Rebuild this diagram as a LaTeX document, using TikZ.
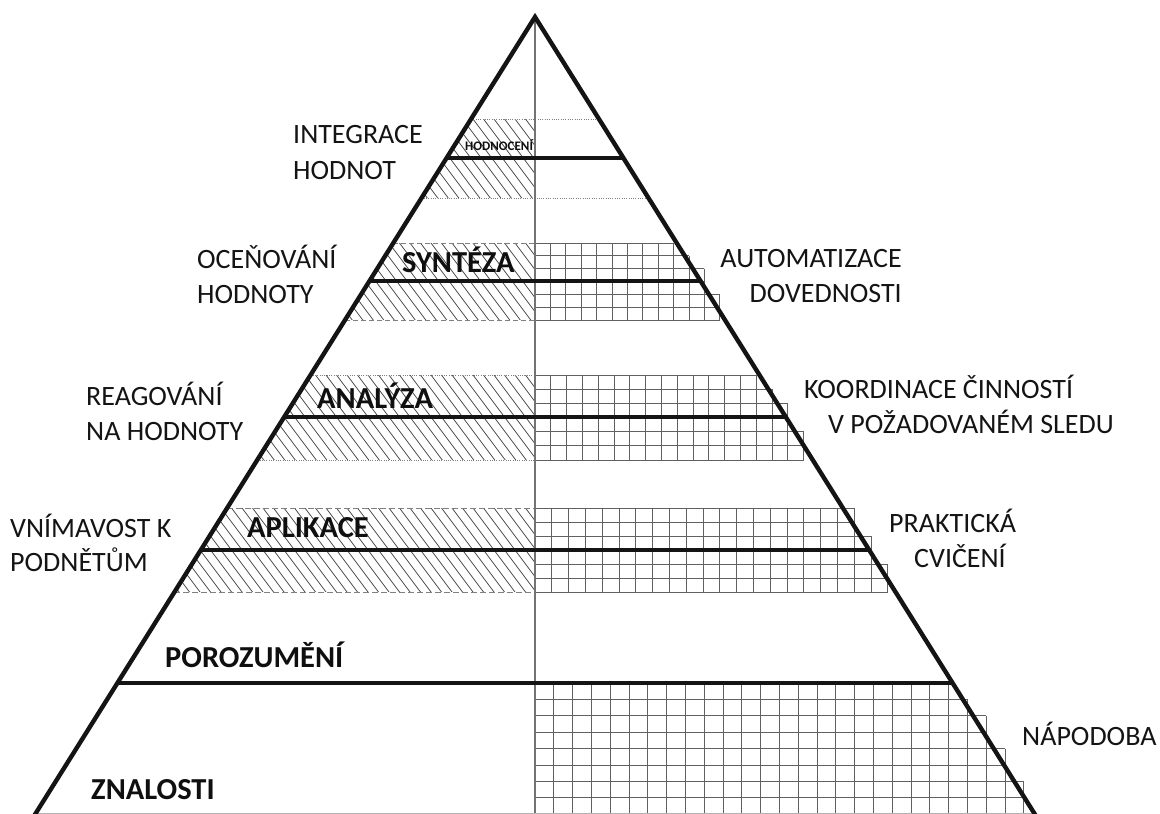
\documentclass[tikz,border=0pt]{standalone}
\usepackage{fontspec}
\setmainfont{Carlito}
\begin{document}
\begin{tikzpicture}[x=1bp, y=-1bp,
  declare function={hw(\t)=0.627*(\t-17);},
  edge/.style={line width=4.4bp, black!92, line join=miter, miter limit=20},
  level/.style={line width=4.3bp, black!92},
  axisline/.style={line width=1.1bp, black!55},
  hatchline/.style={line width=0.75bp, black!72},
  gridline/.style={line width=0.9bp, black!62},
  dotline/.style={line width=0.8bp, black!50, dash pattern=on 1bp off 1.3bp},
  dashline/.style={line width=0.8bp, black!50, dash pattern=on 5bp off 3bp},
  lbl/.style={inner sep=0pt, anchor=base west, text=black!92,
    font=\fontsize{28bp}{34bp}\selectfont},
  lvl/.style={inner sep=0pt, anchor=base west, text=black!94,
    font=\fontsize{30.5bp}{36bp}\selectfont\bfseries},
  small/.style={inner sep=0pt, anchor=base west, text=black!94,
    font=\fontsize{13bp}{15bp}\selectfont\bfseries}]

\useasboundingbox (0,0) rectangle (1160,814);
\fill[white] (0,0) rectangle (1160,814);
\clip (0,0) rectangle (1160,814);

\coordinate (apex) at (535,17);
\coordinate (bl) at ({535-hw(830)},830);
\coordinate (br) at ({535+hw(830)},830);
\coordinate (foot) at (535,830);

% diagonal hatching of the cognitive bands (left half)
\foreach \ya/\yb in {119/198, 243/320, 375/460, 508/592}{
  \begin{scope}
    \clip (apex) -- (bl) -- (br) -- cycle;
    \clip (0,\ya) rectangle (535,\yb);
    \foreach \k in {0,...,72}{
      \draw[hatchline] ({-220+10.5*\k},\ya) -- ++({0.75*(\yb-\ya)},{\yb-\ya});
    }
  \end{scope}
}

% square grids of the psychomotor bands (right half), stepped at the edge
\foreach \gtop/\grows/\gh/\gw in {243/6/12.83/15.4, 375/6/14.17/15.8, 508/6/14/16.8, 683/8/16.4/18.8}{
  \foreach \gr in {1,...,\grows}{
    \pgfmathsetmacro\gya{\gtop+(\gr-1)*\gh}
    \pgfmathsetmacro\gyb{\gya+\gh}
    \pgfmathtruncatemacro\gcols{round(hw((\gya+\gyb)/2)/\gw)}
    \pgfmathsetmacro\gxe{535+\gcols*\gw}
    \draw[gridline] (535,\gya) -- (\gxe,\gya);
    \draw[gridline] (535,\gyb) -- (\gxe,\gyb);
    \foreach \gk in {1,...,\gcols}{
      \pgfmathsetmacro\gx{535+\gk*\gw}
      \draw[gridline] (\gx,\gya) -- (\gx,\gyb);
    }
  }
}

% band borders
\draw[dotline] ({535-hw(119)},119) -- ({535+hw(119)},119);
\draw[dotline] ({535-hw(198)},198) -- ({535+hw(198)},198);
\draw[dashline] ({535-hw(243)},243) -- (535,243);
\draw[dashline] ({535-hw(320)},320) -- (535,320);
\draw[dotline] ({535-hw(375)},375) -- (535,375);
\draw[dotline] ({535-hw(460)},460) -- (535,460);
\draw[dashline, dash pattern=on 6bp off 3bp] ({535-hw(508)},508) -- (535,508);
\draw[dashline, dash pattern=on 6bp off 3bp] ({535-hw(592)},592) -- (535,592);

% central axis
\draw[axisline] (apex) -- (foot);

% level separators
\foreach \y/\nm in {158/a, 281/b, 417/c, 550/d, 683/e}{
  \draw[level] ({535-hw(\y)},\y) coordinate (L\nm) -- ({535+hw(\y)},\y) coordinate (R\nm);
}
\draw[line width=1bp, black!30] ({535-hw(813.6)},813.6) -- ({535+hw(813.6)},813.6);

% pyramid outline
\draw[edge] (bl) -- (apex) -- (br);

% cognitive levels
\node[small] (hodnoceni) at (465,150) {HODNOCENÍ};
\node[lvl] (synteza) at (402,272) {SYNTÉZA};
\node[lvl] (analyza) at (317,408) {ANALÝZA};
\node[lvl] (aplikace) at (247,537) {APLIKACE};
\node[lvl] (porozumeni) at (165,667) {POROZUMĚNÍ};
\node[lvl] (znalosti) at (91,799) {ZNALOSTI};

% affective levels
\node[lbl] (integrace1) at (293,143) {INTEGRACE};
\node[lbl] (integrace2) at (293,179) {HODNOT};
\node[lbl] (ocenovani1) at (197,268) {OCEŇOVÁNÍ};
\node[lbl] (ocenovani2) at (197,303) {HODNOTY};
\node[lbl] (reagovani1) at (86,405) {REAGOVÁNÍ};
\node[lbl] (reagovani2) at (86,440) {NA HODNOTY};
\node[lbl] (vnimavost1) at (10,537) {VNÍMAVOST K};
\node[lbl] (vnimavost2) at (10,571) {PODNĚTŮM};

% psychomotor levels
\node[lbl, anchor=base east] (automat1) at (902,267) {AUTOMATIZACE};
\node[lbl, anchor=base east] (automat2) at (902,302) {DOVEDNOSTI};
\node[lbl] (koord1) at (804,398) {KOORDINACE ČINNOSTÍ};
\node[lbl] (koord2) at (828,433) {V POŽADOVANÉM SLEDU};
\node[lbl] (prakt1) at (889,532) {PRAKTICKÁ};
\node[lbl] (prakt2) at (914,567) {CVIČENÍ};
\node[lbl] (napodoba) at (1022,745) {NÁPODOBA};
\end{tikzpicture}
\end{document}
